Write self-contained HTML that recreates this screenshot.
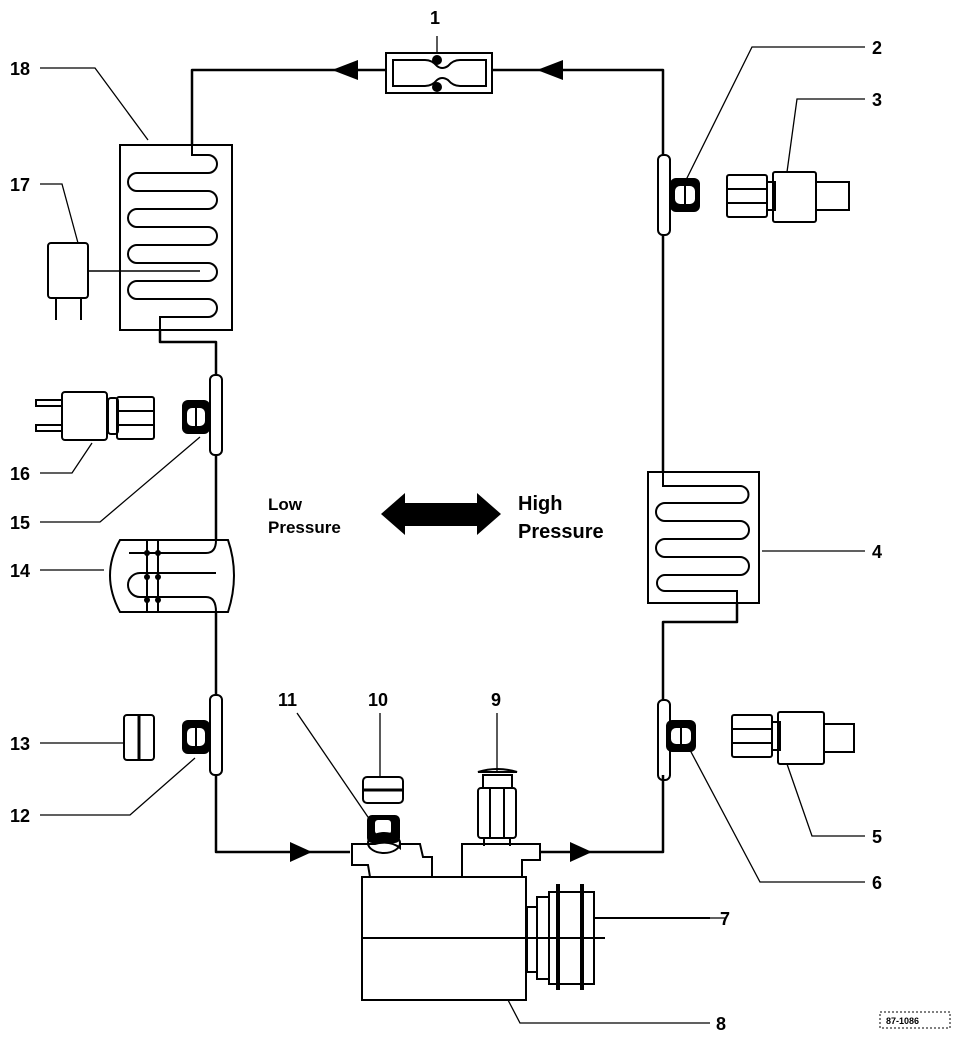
<!DOCTYPE html>
<html><head><meta charset="utf-8"><style>
html,body{margin:0;padding:0;background:#fff;}
svg{display:block;}
text{font-family:"Liberation Sans",Arial,sans-serif;font-weight:bold;fill:#000;}
</style></head><body>
<svg width="960" height="1038" viewBox="0 0 960 1038" xmlns="http://www.w3.org/2000/svg">
<g fill="none" stroke="#000" stroke-width="2.5" stroke-linejoin="round">
<!-- main loop -->
<path d="M192 145 V70 H386"/>
<path d="M492 70 H663 V155"/>
<path d="M663 235 V472"/>
<path d="M737 603 V622 H663 V700"/>
<path d="M663 775 V852 H540"/>
<path d="M160 330 V342 H216 V375"/>
<path d="M216 455 V540"/>
<path d="M216 612 V695"/>
<path d="M216 775 V852 H350"/>
</g>
<!-- arrows -->
<g fill="#000">
<polygon points="332,70 358,60 358,80"/>
<polygon points="537,70 563,60 563,80"/>
<polygon points="312,852 290,842 290,862"/>
<polygon points="592,852 570,842 570,862"/>
<polygon points="381,514 405,493 405,503 477,503 477,493 501,514 477,535 477,526 405,526 405,535"/>
</g>
<!-- expansion valve 1 -->
<g fill="none" stroke="#000" stroke-width="2">
<rect x="386" y="53" width="106" height="40"/>
<path d="M393 60 H425 Q432 60 437 66 Q442 70 448 66 Q453 60 460 60 H486 V86 H460 Q453 86 448 80 Q442 76 437 80 Q432 86 425 86 H393 Z"/>
</g>
<circle cx="437" cy="60" r="5" fill="#000"/><circle cx="437" cy="87" r="5" fill="#000"/>
<!-- condenser/evaporator 18 -->
<g fill="none" stroke="#000" stroke-width="2">
<rect x="120" y="145" width="112" height="185"/>
<path d="M192 145 V155 H208 A9 9 0 0 1 208 173 H137 A9 9 0 0 0 137 191 H208 A9 9 0 0 1 208 209 H137 A9 9 0 0 0 137 227 H208 A9 9 0 0 1 208 245 H137 A9 9 0 0 0 137 263 H208 A9 9 0 0 1 208 281 H137 A9 9 0 0 0 137 299 H208 A9 9 0 0 1 208 317 H160 V330"/>
<path d="M88 271 H200" stroke-width="1.5"/>
<rect x="48" y="243" width="40" height="55" rx="3"/>
<path d="M56 298 V320 M81 298 V320"/>
</g>
<!-- component 4 -->
<g fill="none" stroke="#000" stroke-width="2">
<rect x="648" y="472" width="111" height="131"/>
<path d="M663 472 V486 H740 A8 8 0 0 1 740 503 H665 A8 8 0 0 0 665 521 H740 A8 8 0 0 1 740 539 H665 A8 8 0 0 0 665 557 H740 A8 8 0 0 1 740 575 H665 A8 8 0 0 0 665 591 H737 V603"/>
</g>
<!-- receiver 14 -->
<g fill="none" stroke="#000" stroke-width="2">
<path d="M120 540 H228 Q240 575 228 612 H120 Q100 575 120 540 Z"/>
<path d="M129 553 H206 Q216 553 216 540"/>
<path d="M216 573 H140 A11 11 0 0 0 140 597 H206 Q216 597 216 612"/>
<path d="M147 540 V612 M158 540 V612"/>
</g>
<g fill="#000"><circle cx="147" cy="553" r="3"/><circle cx="158" cy="553" r="3"/><circle cx="147" cy="577" r="3"/><circle cx="158" cy="577" r="3"/><circle cx="147" cy="600" r="3"/><circle cx="158" cy="600" r="3"/></g>
<!-- service fittings -->
<g fill="none" stroke="#000" stroke-width="2">
<rect x="210" y="375" width="12" height="80" rx="5"/>
<rect x="210" y="695" width="12" height="80" rx="5"/>
<rect x="658" y="155" width="12" height="80" rx="5"/>
<rect x="658" y="700" width="12" height="80" rx="5"/>
</g>
<g fill="#000">
<rect x="182" y="400" width="28" height="34" rx="6"/>
<rect x="182" y="720" width="28" height="34" rx="6"/>
<rect x="670" y="178" width="30" height="34" rx="6"/>
<rect x="666" y="720" width="30" height="32" rx="6"/>
</g>
<g fill="#fff"><rect x="187" y="408" width="18" height="18" rx="5"/><rect x="187" y="728" width="18" height="18" rx="5"/><rect x="675" y="186" width="20" height="18" rx="5"/><rect x="671" y="728" width="20" height="16" rx="5"/></g>
<g stroke="#000" stroke-width="2"><path d="M196 408 V426 M196 728 V746 M685 186 V204 M681 728 V744"/></g>
<!-- switches 16, 3, 5, 13 -->
<g fill="none" stroke="#000" stroke-width="2">
<rect x="62" y="392" width="45" height="48" rx="3"/>
<path d="M36 400 H62 V406 H36 Z M36 425 H62 V431 H36 Z"/>
<rect x="108" y="398" width="10" height="36" rx="3"/>
<rect x="117" y="397" width="37" height="42" rx="2"/><path d="M117 411 H154 M117 425 H154"/>
<rect x="727" y="175" width="40" height="42" rx="2"/><path d="M727 189 H767 M727 203 H767"/>
<rect x="767" y="182" width="8" height="28"/>
<rect x="773" y="172" width="43" height="50" rx="2"/>
<rect x="816" y="182" width="33" height="28"/>
<rect x="732" y="715" width="40" height="42" rx="2"/><path d="M732 729 H772 M732 743 H772"/>
<rect x="772" y="722" width="8" height="28"/>
<rect x="778" y="712" width="46" height="52" rx="2"/>
<rect x="824" y="724" width="30" height="28"/>
<rect x="124" y="715" width="30" height="45" rx="3"/><path d="M139 715 V760" stroke-width="3"/>
<rect x="363" y="777" width="40" height="26" rx="4"/><path d="M363 790 H403" stroke-width="3"/>
</g>
<!-- compressor -->
<g fill="none" stroke="#000" stroke-width="2">
<rect x="362" y="877" width="164" height="123"/>
<path d="M362 938 H605"/>
<path d="M370 877 L368 865 H352 V844 H375 Q390 840 400 848 V844 H420 L423 857 H432 V877"/>
<path d="M462 877 V844 H540 V860 H522 V877"/>
<rect x="527" y="907" width="10" height="65"/><rect x="537" y="897" width="12" height="82"/>
<rect x="549" y="892" width="45" height="92"/>
<path d="M558 884 V990 M582 884 V990" stroke-width="4"/>
<path d="M594 918 H710"/>
<rect x="478" y="788" width="38" height="50" rx="3"/><path d="M490 788 V838 M504 788 V838"/>
<path d="M483 788 V775 H512 V788 M478 772 Q497 766 517 772 Z"/>
<path d="M484 838 V846 M510 838 V846"/>
</g>
<rect x="367" y="815" width="33" height="28" rx="5" fill="#000"/>
<rect x="375" y="820" width="16" height="14" rx="3" fill="#fff"/>
<ellipse cx="384" cy="843" rx="16" ry="10" fill="none" stroke="#000" stroke-width="2"/>
<!-- leader lines -->
<g fill="none" stroke="#000" stroke-width="1.3">
<path d="M40 68 H95 L148 140"/>
<path d="M40 184 H62 L78 243"/>
<path d="M437 36 V53"/>
<path d="M865 47 H752 L686 180"/>
<path d="M865 99 H797 L787 172"/>
<path d="M865 551 H762"/>
<path d="M865 836 H812 L787 764"/>
<path d="M865 882 H760 L690 750"/>
<path d="M710 1023 H520 L508 1000"/>
<path d="M726 918 H594"/>
<path d="M497 713 V772"/>
<path d="M380 713 V777"/>
<path d="M297 713 L370 820"/>
<path d="M40 473 H72 L92 443"/>
<path d="M40 522 H100 L200 437"/>
<path d="M40 570 H104"/>
<path d="M40 743 H124"/>
<path d="M40 815 H130 L195 758"/>
</g>
<!-- labels -->
<g font-size="18">
<text x="430" y="24">1</text>
<text x="872" y="54">2</text>
<text x="872" y="106">3</text>
<text x="872" y="558">4</text>
<text x="872" y="843">5</text>
<text x="872" y="889">6</text>
<text x="720" y="925">7</text>
<text x="716" y="1030">8</text>
<text x="491" y="706">9</text>
<text x="368" y="706">10</text>
<text x="278" y="706">11</text>
<text x="10" y="822">12</text>
<text x="10" y="750">13</text>
<text x="10" y="577">14</text>
<text x="10" y="529">15</text>
<text x="10" y="480">16</text>
<text x="10" y="191">17</text>
<text x="10" y="75">18</text>
</g>
<text x="268" y="510" font-size="17">Low</text>
<text x="268" y="533" font-size="17">Pressure</text>
<text x="518" y="510" font-size="20">High</text>
<text x="518" y="538" font-size="20">Pressure</text>
<rect x="880" y="1012" width="70" height="16" fill="none" stroke="#000" stroke-width="1" stroke-dasharray="2,2"/>
<text x="886" y="1024" font-size="9">87-1086</text>
</svg>
</body></html>
